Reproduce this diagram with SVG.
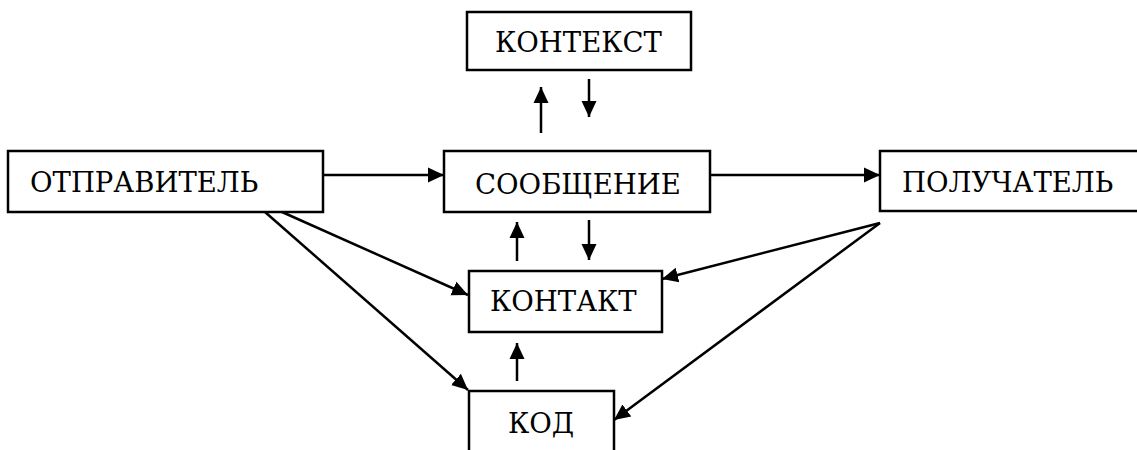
<svg xmlns="http://www.w3.org/2000/svg" width="1137" height="450" viewBox="0 0 1137 450">
  <style>
    .box { fill: #ffffff; stroke: #000000; stroke-width: 2.5; }
    .label { font-family: 'DejaVu Serif', 'Liberation Serif', serif; font-size: 27.5px; fill: #000000; }
    .link { stroke: #000000; stroke-width: 2.5; fill: none; marker-end: url(#arrow); }
  </style>
  <defs>
    <marker id="arrow" markerUnits="userSpaceOnUse" markerWidth="18" markerHeight="18" viewBox="0 0 18 18" refX="16" refY="9" orient="auto">
      <path d="M0,1.5 L16,9 L0,16.5 Z" fill="#000000"/>
    </marker>
  </defs>
  <rect width="1137" height="450" fill="#ffffff"/>

  <g id="sender">
    <rect class="box" x="8" y="151" width="315" height="61"/>
    <text class="label" x="30" y="192">ОТПРАВИТЕЛЬ</text>
  </g>
  <g id="context">
    <rect class="box" x="467" y="12" width="224" height="58"/>
    <text class="label" x="495" y="52">КОНТЕКСТ</text>
  </g>
  <g id="message">
    <rect class="box" x="444" y="151" width="266" height="61"/>
    <text class="label" x="475" y="194">СООБЩЕНИЕ</text>
  </g>
  <g id="receiver">
    <rect class="box" x="880" y="151" width="270" height="60"/>
    <text class="label" x="902" y="192">ПОЛУЧАТЕЛЬ</text>
  </g>
  <g id="contact">
    <rect class="box" x="469" y="271" width="193" height="61"/>
    <text class="label" x="490" y="311">КОНТАКТ</text>
  </g>
  <g id="code">
    <rect class="box" x="469" y="391" width="145" height="70"/>
    <text class="label" x="508" y="433">КОД</text>
  </g>

  <g id="connectors">
    <line class="link" x1="323" y1="175" x2="444" y2="175"/>
    <line class="link" x1="710" y1="175" x2="880" y2="175"/>
    <line class="link" x1="541" y1="133" x2="541" y2="87"/>
    <line class="link" x1="589" y1="79" x2="589" y2="117"/>
    <line class="link" x1="517" y1="261" x2="517" y2="222"/>
    <line class="link" x1="589" y1="220" x2="589" y2="260"/>
    <line class="link" x1="517" y1="381" x2="517" y2="343"/>
    <line class="link" x1="282" y1="212" x2="468" y2="295"/>
    <line class="link" x1="265" y1="212" x2="468" y2="390"/>
    <line class="link" x1="880" y1="223" x2="662" y2="279"/>
    <line class="link" x1="880" y1="223" x2="614" y2="420"/>
  </g>
</svg>
